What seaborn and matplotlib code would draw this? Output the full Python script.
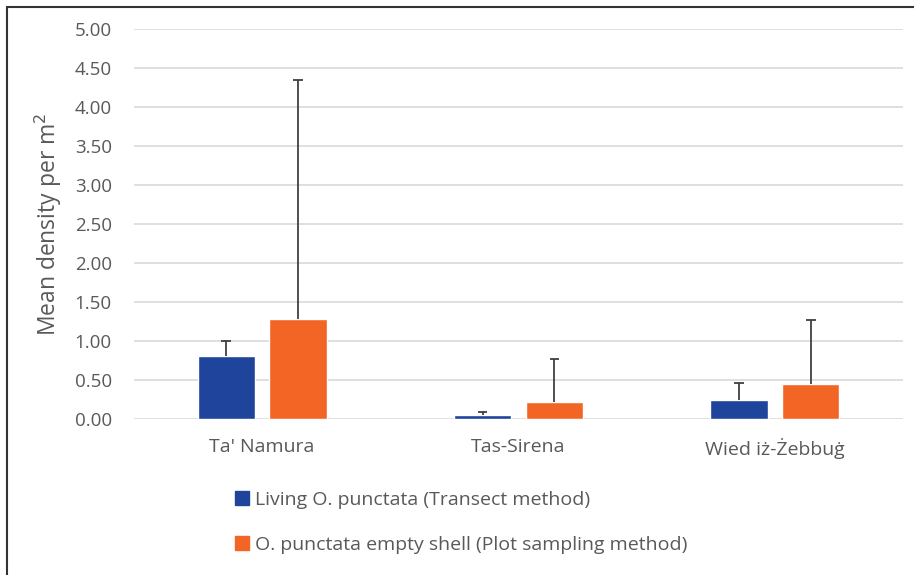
import matplotlib
matplotlib.use("Agg")
import matplotlib.pyplot as plt
import matplotlib.lines as mlines
import seaborn as sns
import pandas as pd

sites = ["Ta' Namura", "Tas-Sirena", "Wied iż-Żebbuġ"]
series = ["Living O. punctata (Transect method)",
          "O. punctata empty shell (Plot sampling method)"]
living_mean = [0.81, 0.05, 0.25]
living_err = [0.19, 0.04, 0.21]
shell_mean = [1.28, 0.22, 0.45]
shell_err = [3.07, 0.55, 0.82]
yticks = [0.0, 0.5, 1.0, 1.5, 2.0, 2.5, 3.0, 3.5, 4.0, 4.5, 5.0]

colors = ["#1f449c", "#f26524"]
text_col = "#595959"

df = pd.DataFrame({
    "Site": sites * 2,
    "Series": [series[0]] * 3 + [series[1]] * 3,
    "Mean": living_mean + shell_mean,
})

sns.set_style("white")
plt.rcParams["font.family"] = ["Open Sans", "DejaVu Sans"]

fig = plt.figure(figsize=(9.14, 5.75), dpi=100)
ax = fig.add_axes([0.1466, 0.2713, 0.8414, 0.6783])

sns.barplot(data=df, x="Site", y="Mean", hue="Series", order=sites,
            hue_order=series, palette=colors, width=0.56, gap=0.2,
            saturation=1, legend=False, ax=ax)

# upper-only error bars with a cap at the top
cap = 0.019
for cont, errs in zip(ax.containers, [living_err, shell_err]):
    for p, e in zip(cont.patches, errs):
        xc = p.get_x() + p.get_width() / 2
        top = p.get_height() + e
        ax.plot([xc, xc], [p.get_height(), top], color="#404040",
                linewidth=1.3, solid_capstyle="butt", zorder=1)
        ax.plot([xc - cap, xc + cap], [top, top], color="#404040",
                linewidth=1.3, solid_capstyle="butt", zorder=1)

ax.set_ylim(0, 5.0)
ax.set_xlim(-0.5, 2.5)
ax.set_yticks(yticks)
ax.set_yticklabels([f"{t:.2f}" for t in yticks])
ax.yaxis.grid(True, color="#d9d9d9", linewidth=1.2)
ax.set_axisbelow(True)
for s in ax.spines.values():
    s.set_visible(False)
ax.tick_params(axis="both", length=0, labelsize=13.5, colors=text_col)
ax.tick_params(axis="x", labelsize=14, pad=14)
ax.tick_params(axis="y", pad=16)
ax.set_xlabel("")
ax.set_ylabel("Mean density per m$^2$", fontsize=16.5, color=text_col,
              labelpad=8)

handles = [mlines.Line2D([], [], marker="s", linestyle="none",
                         markersize=10.5, color=c) for c in colors]
fig.legend(handles, series, loc="upper left",
           bbox_to_anchor=(0.248, 0.16), frameon=False,
           fontsize=14, labelcolor=text_col, handletextpad=0.25,
           labelspacing=1.4, handlelength=0.8, borderaxespad=0)

# outer frame lines of the figure box
fig.add_artist(mlines.Line2D([7 / 914, 7 / 914], [0, 1 - 7 / 575],
                             color="#333333", linewidth=1.5))
fig.add_artist(mlines.Line2D([7 / 914, 1], [1 - 7 / 575, 1 - 7 / 575],
                             color="#333333", linewidth=1.5))

fig.savefig("out.png", dpi=100)
